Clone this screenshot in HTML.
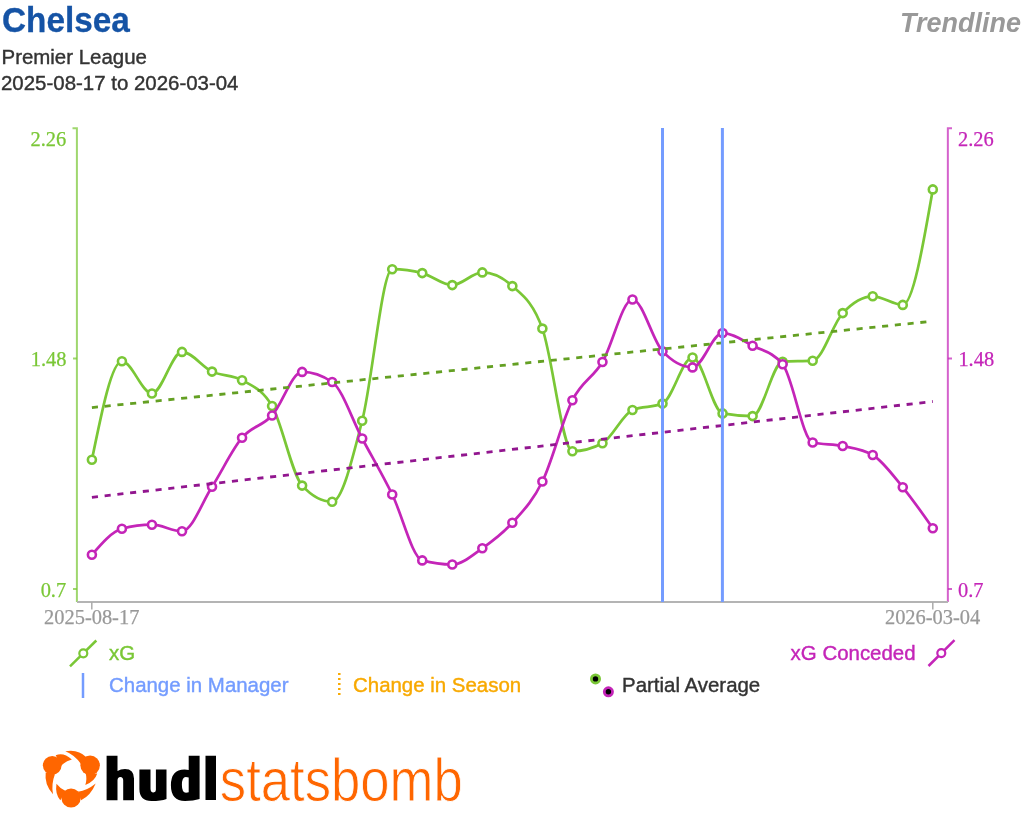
<!DOCTYPE html>
<html><head><meta charset="utf-8"><style>
html,body{margin:0;padding:0;background:#fff;width:1024px;height:832px;overflow:hidden;position:relative;font-family:"Liberation Sans",sans-serif}
</style></head><body>
<svg width="1024" height="832" viewBox="0 0 1024 832" style="position:absolute;left:0;top:0;will-change:transform">
<!-- header -->
<text transform="translate(2,32) scale(0.952,1)" font-family="Liberation Sans, sans-serif" font-weight="bold" font-size="35" fill="#1553a5" stroke="#1553a5" stroke-width="0.3">Chelsea</text>
<g font-family="Liberation Sans, sans-serif" font-size="20.45" fill="#333" stroke="#333" stroke-width="0.4">
<text x="1.5" y="64.2">Premier League</text>
<text x="1" y="89.7">2025-08-17 to 2026-03-04</text>
</g>
<text x="1021" y="32" text-anchor="end" font-family="Liberation Sans, sans-serif" font-weight="bold" font-style="italic" font-size="27" fill="#999">Trendline</text>
<!-- axes -->
<path d="M72.5,128.2H76.9V602" fill="none" stroke="#7ac736" stroke-width="2" opacity="0.72"/>
<path d="M73,358.6H76.9M73,589.1H76.9" fill="none" stroke="#7ac736" stroke-width="2" opacity="0.72"/>
<path d="M952,128.2H947.85V602" fill="none" stroke="#c425b8" stroke-width="2" opacity="0.72"/>
<path d="M952,358.6H947.85M952,589.1H947.85" fill="none" stroke="#c425b8" stroke-width="2" opacity="0.72"/>
<path d="M77,602H948" fill="none" stroke="#b4b4b4" stroke-width="2"/>
<path d="M91.8,602V609.5M932.8,602V609.5" fill="none" stroke="#ababab" stroke-width="1.5"/>
<g font-family="Liberation Serif, serif" font-size="20.45" stroke-width="0.25">
<text x="66.2" y="145.5" fill="#7ac736" stroke="#7ac736" text-anchor="end">2.26</text>
<text x="66.5" y="366" fill="#7ac736" stroke="#7ac736" text-anchor="end">1.48</text>
<text x="66.2" y="596.5" fill="#7ac736" stroke="#7ac736" text-anchor="end">0.7</text>
<text x="958" y="145.5" fill="#c425b8" stroke="#c425b8">2.26</text>
<text x="958.4" y="366" fill="#c425b8" stroke="#c425b8">1.48</text>
<text x="958" y="596.5" fill="#c425b8" stroke="#c425b8">0.7</text>
<text x="91.7" y="623.5" fill="#999" stroke="#999" text-anchor="middle">2025-08-17</text>
<text x="932.6" y="623.5" fill="#999" stroke="#999" text-anchor="middle">2026-03-04</text>
</g>
<!-- data -->
<path d="M91.90,459.80C101.91,410.52,111.92,361.25,121.93,361.25C131.94,361.25,141.95,393.50,151.96,393.50C161.97,393.50,171.99,351.90,182.00,351.90C192.01,351.90,202.02,366.88,212.03,371.60C222.04,376.32,232.05,374.47,242.06,380.20C252.07,385.93,262.08,388.80,272.09,406.00C282.10,423.20,292.11,474.80,302.12,485.60C312.14,496.40,322.15,501.80,332.16,501.80C342.17,501.80,352.18,459.47,362.19,420.70C372.20,381.93,382.21,269.20,392.22,269.20C402.23,269.20,412.24,270.50,422.25,273.10C432.26,275.70,442.27,285.10,452.29,285.10C462.30,285.10,472.31,272.40,482.32,272.40C492.33,272.40,502.34,276.97,512.35,286.10C522.36,295.23,532.37,301.08,542.38,328.60C552.39,356.12,562.40,451.20,572.41,451.20C582.42,451.20,592.44,448.53,602.45,443.20C612.46,437.87,622.47,414.27,632.48,410.00C642.49,405.73,652.50,407.87,662.51,403.60C672.52,399.33,682.53,357.50,692.54,357.50C702.55,357.50,712.56,411.60,722.57,413.40C732.59,415.20,742.60,416.10,752.61,416.10C762.62,416.10,772.63,362.37,782.64,361.70C792.65,361.03,802.66,361.37,812.67,360.70C822.68,360.03,832.69,323.83,842.70,313.10C852.71,302.37,862.72,296.30,872.74,296.30C882.75,296.30,892.76,304.90,902.77,304.90C912.78,304.90,922.79,247.15,932.80,189.40" fill="none" stroke="#7ac736" stroke-width="2.7"/>
<circle cx="91.90" cy="459.80" r="4" fill="#fff" stroke="#7ac736" stroke-width="2.6"/><circle cx="121.93" cy="361.25" r="4" fill="#fff" stroke="#7ac736" stroke-width="2.6"/><circle cx="151.96" cy="393.50" r="4" fill="#fff" stroke="#7ac736" stroke-width="2.6"/><circle cx="182.00" cy="351.90" r="4" fill="#fff" stroke="#7ac736" stroke-width="2.6"/><circle cx="212.03" cy="371.60" r="4" fill="#fff" stroke="#7ac736" stroke-width="2.6"/><circle cx="242.06" cy="380.20" r="4" fill="#fff" stroke="#7ac736" stroke-width="2.6"/><circle cx="272.09" cy="406.00" r="4" fill="#fff" stroke="#7ac736" stroke-width="2.6"/><circle cx="302.12" cy="485.60" r="4" fill="#fff" stroke="#7ac736" stroke-width="2.6"/><circle cx="332.16" cy="501.80" r="4" fill="#fff" stroke="#7ac736" stroke-width="2.6"/><circle cx="362.19" cy="420.70" r="4" fill="#fff" stroke="#7ac736" stroke-width="2.6"/><circle cx="392.22" cy="269.20" r="4" fill="#fff" stroke="#7ac736" stroke-width="2.6"/><circle cx="422.25" cy="273.10" r="4" fill="#fff" stroke="#7ac736" stroke-width="2.6"/><circle cx="452.29" cy="285.10" r="4" fill="#fff" stroke="#7ac736" stroke-width="2.6"/><circle cx="482.32" cy="272.40" r="4" fill="#fff" stroke="#7ac736" stroke-width="2.6"/><circle cx="512.35" cy="286.10" r="4" fill="#fff" stroke="#7ac736" stroke-width="2.6"/><circle cx="542.38" cy="328.60" r="4" fill="#fff" stroke="#7ac736" stroke-width="2.6"/><circle cx="572.41" cy="451.20" r="4" fill="#fff" stroke="#7ac736" stroke-width="2.6"/><circle cx="602.45" cy="443.20" r="4" fill="#fff" stroke="#7ac736" stroke-width="2.6"/><circle cx="632.48" cy="410.00" r="4" fill="#fff" stroke="#7ac736" stroke-width="2.6"/><circle cx="662.51" cy="403.60" r="4" fill="#fff" stroke="#7ac736" stroke-width="2.6"/><circle cx="692.54" cy="357.50" r="4" fill="#fff" stroke="#7ac736" stroke-width="2.6"/><circle cx="722.57" cy="413.40" r="4" fill="#fff" stroke="#7ac736" stroke-width="2.6"/><circle cx="752.61" cy="416.10" r="4" fill="#fff" stroke="#7ac736" stroke-width="2.6"/><circle cx="782.64" cy="361.70" r="4" fill="#fff" stroke="#7ac736" stroke-width="2.6"/><circle cx="812.67" cy="360.70" r="4" fill="#fff" stroke="#7ac736" stroke-width="2.6"/><circle cx="842.70" cy="313.10" r="4" fill="#fff" stroke="#7ac736" stroke-width="2.6"/><circle cx="872.74" cy="296.30" r="4" fill="#fff" stroke="#7ac736" stroke-width="2.6"/><circle cx="902.77" cy="304.90" r="4" fill="#fff" stroke="#7ac736" stroke-width="2.6"/><circle cx="932.80" cy="189.40" r="4" fill="#fff" stroke="#7ac736" stroke-width="2.6"/>
<path d="M91.90,554.80C101.91,543.17,111.92,531.53,121.93,528.80C131.94,526.07,141.95,524.70,151.96,524.70C161.97,524.70,171.99,531.20,182.00,531.20C192.01,531.20,202.02,502.38,212.03,486.80C222.04,471.22,232.05,449.58,242.06,437.70C252.07,425.82,262.08,426.47,272.09,415.50C282.10,404.53,292.11,371.90,302.12,371.90C312.14,371.90,322.15,375.27,332.16,382.00C342.17,388.73,352.18,419.75,362.19,438.50C372.20,457.25,382.21,474.18,392.22,494.50C402.23,514.82,412.24,557.67,422.25,560.40C432.26,563.13,442.27,564.50,452.29,564.50C462.30,564.50,472.31,555.25,482.32,548.30C492.33,541.35,502.34,533.93,512.35,522.80C522.36,511.67,532.37,501.93,542.38,481.50C552.39,461.07,562.40,420.12,572.41,400.20C582.42,380.28,592.44,378.78,602.45,362.00C612.46,345.22,622.47,299.50,632.48,299.50C642.49,299.50,652.50,340.40,662.51,351.20C672.52,362.00,682.53,367.40,692.54,367.40C702.55,367.40,712.56,333.00,722.57,333.00C732.59,333.00,742.60,340.50,752.61,345.70C762.62,350.90,772.63,351.87,782.64,364.20C792.65,376.53,802.66,440.17,812.67,442.50C822.68,444.83,832.69,443.92,842.70,446.00C852.71,448.08,862.72,449.00,872.74,455.00C882.75,461.00,892.76,475.10,902.77,487.30C912.78,499.50,922.79,513.85,932.80,528.20" fill="none" stroke="#c425b8" stroke-width="2.7"/>
<circle cx="91.90" cy="554.80" r="4" fill="#fff" stroke="#c425b8" stroke-width="2.6"/><circle cx="121.93" cy="528.80" r="4" fill="#fff" stroke="#c425b8" stroke-width="2.6"/><circle cx="151.96" cy="524.70" r="4" fill="#fff" stroke="#c425b8" stroke-width="2.6"/><circle cx="182.00" cy="531.20" r="4" fill="#fff" stroke="#c425b8" stroke-width="2.6"/><circle cx="212.03" cy="486.80" r="4" fill="#fff" stroke="#c425b8" stroke-width="2.6"/><circle cx="242.06" cy="437.70" r="4" fill="#fff" stroke="#c425b8" stroke-width="2.6"/><circle cx="272.09" cy="415.50" r="4" fill="#fff" stroke="#c425b8" stroke-width="2.6"/><circle cx="302.12" cy="371.90" r="4" fill="#fff" stroke="#c425b8" stroke-width="2.6"/><circle cx="332.16" cy="382.00" r="4" fill="#fff" stroke="#c425b8" stroke-width="2.6"/><circle cx="362.19" cy="438.50" r="4" fill="#fff" stroke="#c425b8" stroke-width="2.6"/><circle cx="392.22" cy="494.50" r="4" fill="#fff" stroke="#c425b8" stroke-width="2.6"/><circle cx="422.25" cy="560.40" r="4" fill="#fff" stroke="#c425b8" stroke-width="2.6"/><circle cx="452.29" cy="564.50" r="4" fill="#fff" stroke="#c425b8" stroke-width="2.6"/><circle cx="482.32" cy="548.30" r="4" fill="#fff" stroke="#c425b8" stroke-width="2.6"/><circle cx="512.35" cy="522.80" r="4" fill="#fff" stroke="#c425b8" stroke-width="2.6"/><circle cx="542.38" cy="481.50" r="4" fill="#fff" stroke="#c425b8" stroke-width="2.6"/><circle cx="572.41" cy="400.20" r="4" fill="#fff" stroke="#c425b8" stroke-width="2.6"/><circle cx="602.45" cy="362.00" r="4" fill="#fff" stroke="#c425b8" stroke-width="2.6"/><circle cx="632.48" cy="299.50" r="4" fill="#fff" stroke="#c425b8" stroke-width="2.6"/><circle cx="662.51" cy="351.20" r="4" fill="#fff" stroke="#c425b8" stroke-width="2.6"/><circle cx="692.54" cy="367.40" r="4" fill="#fff" stroke="#c425b8" stroke-width="2.6"/><circle cx="722.57" cy="333.00" r="4" fill="#fff" stroke="#c425b8" stroke-width="2.6"/><circle cx="752.61" cy="345.70" r="4" fill="#fff" stroke="#c425b8" stroke-width="2.6"/><circle cx="782.64" cy="364.20" r="4" fill="#fff" stroke="#c425b8" stroke-width="2.6"/><circle cx="812.67" cy="442.50" r="4" fill="#fff" stroke="#c425b8" stroke-width="2.6"/><circle cx="842.70" cy="446.00" r="4" fill="#fff" stroke="#c425b8" stroke-width="2.6"/><circle cx="872.74" cy="455.00" r="4" fill="#fff" stroke="#c425b8" stroke-width="2.6"/><circle cx="902.77" cy="487.30" r="4" fill="#fff" stroke="#c425b8" stroke-width="2.6"/><circle cx="932.80" cy="528.20" r="4" fill="#fff" stroke="#c425b8" stroke-width="2.6"/>
<!-- trends -->
<path d="M91.9,407.6L932.8,321.2" fill="none" stroke="#64a023" stroke-width="2.8" stroke-dasharray="6.1,6.712"/>
<path d="M91.9,497.3L932.8,401.5" fill="none" stroke="#92168f" stroke-width="2.8" stroke-dasharray="6.1,6.712"/>
<!-- managers -->
<path d="M662.5,128V602M722.4,128V602" fill="none" stroke="#749cff" stroke-width="3"/>
<!-- legend -->
<path d="M70,666.3L96.3,640.5" stroke="#7ac736" stroke-width="2.5" fill="none"/>
<circle cx="83.3" cy="653.3" r="4" fill="#fff" stroke="#7ac736" stroke-width="2.2"/>
<path d="M928.5,666L954.5,640.2" stroke="#c425b8" stroke-width="2.5" fill="none"/>
<circle cx="941.3" cy="653.1" r="4" fill="#fff" stroke="#c425b8" stroke-width="2.2"/>
<path d="M83,673V698" stroke="#749cff" stroke-width="2.5" fill="none"/>
<path d="M339.3,673V696" stroke="#f8a900" stroke-width="2.5" stroke-dasharray="2,3" fill="none"/>
<circle cx="595.5" cy="678.9" r="4.1" fill="#000" stroke="#7ac736" stroke-width="2.8"/>
<circle cx="608.4" cy="691.8" r="4.1" fill="#000" stroke="#c425b8" stroke-width="2.8"/>
<g font-family="Liberation Sans, sans-serif" font-size="20.45" stroke-width="0.4">
<text x="109" y="660.2" fill="#7ac736" stroke="#7ac736">xG</text>
<text x="915.6" y="659.6" fill="#c425b8" stroke="#c425b8" text-anchor="end">xG Conceded</text>
<text x="109" y="692" fill="#749cff" stroke="#749cff">Change in Manager</text>
<text x="353" y="692" fill="#f8a900" stroke="#f8a900">Change in Season</text>
<text x="622" y="692.2" fill="#333" stroke="#333">Partial Average</text>
</g>
<!-- logo -->
<g transform="translate(38,748) scale(0.076923)" fill="#ff6600">
<circle cx="185" cy="225" r="122"/>
<circle cx="678" cy="225" r="127"/>
<circle cx="430" cy="650" r="125"/>
<path d="M100,320 Q80,480 195,600 Q170,470 220,340 Z"/>
<path d="M230,95 Q330,50 440,150 Q360,170 300,230 Z"/>
<path d="M355,42 Q520,10 630,120 L560,210 Q480,90 355,42 Z"/>
<path d="M770,330 Q740,430 615,480 Q640,400 620,330 Z"/>
<path d="M240,465 Q220,600 290,680 L360,560 Q290,530 240,465 Z"/>
<path d="M750,460 Q690,610 560,680 L520,570 Q640,550 750,460 Z"/>
</g>
<path fill="#000" fill-rule="evenodd" d="M106.6,755.7H117.5V771Q120.5,768.9,125,768.9Q134,768.9,134,778.5V800.2H123.2V780.5Q123.2,776.9,120.4,776.9Q117.5,776.9,117.5,780.5V800.2H106.6Z
M139.4,769.5H150.5V788.5Q150.5,792.4,153.4,792.4Q155.9,792.4,155.9,790V769.5H166.5V798.9Q161,800.9,151.5,800.9Q139.4,800.9,139.4,789Z
M188.7,755.8H199.6V798.9Q193.5,800.9,185,800.9Q170.9,800.9,170.9,785.2Q170.9,769.4,184.5,769.4Q187,769.4,188.7,770Z
M188.7,777.6Q187.3,777,185.8,777Q181.9,777,181.9,785Q181.9,792.7,186,792.7Q187.6,792.7,188.7,792.3Z
M205.5,755.8H216V799.9H205.5Z"/>
<text x="219.8" y="800.6" font-family="Liberation Sans, sans-serif" font-size="62" fill="#ff6600" stroke="#fff" stroke-width="0.9" textLength="243" lengthAdjust="spacingAndGlyphs">statsbomb</text>
</svg>
</body></html>
